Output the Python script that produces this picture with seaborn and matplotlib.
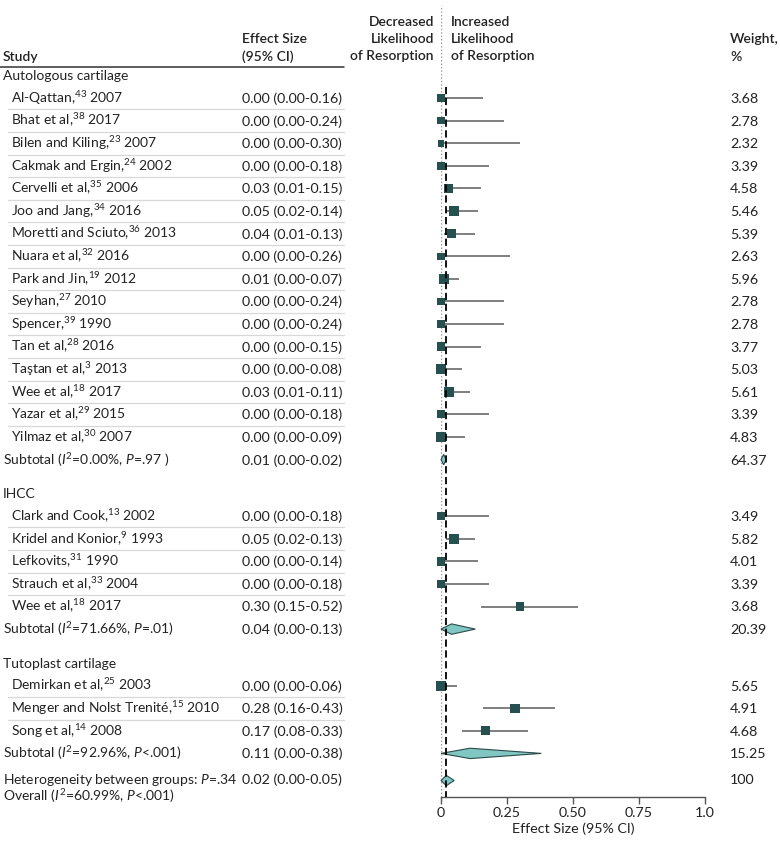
#! /usr/bin/env python3

import numpy as np
import pandas as pd

import matplotlib
matplotlib.use('Agg')
import matplotlib.pyplot as plt
from matplotlib.patches import Polygon
from matplotlib.lines import Line2D
from matplotlib.transforms import blended_transform_factory

import seaborn as sns

# ---- data ----
groups = ["Autologous cartilage", "IHCC", "Tutoplast cartilage"]
group_sizes = [16, 5, 3]

study_names = ["Al-Qattan", "Bhat et al", "Bilen and Kiling", "Cakmak and Ergin",
               "Cervelli et al", "Joo and Jang", "Moretti and Sciuto", "Nuara et al",
               "Park and Jin", "Seyhan", "Spencer", "Tan et al", "Taştan et al",
               "Wee et al", "Yazar et al", "Yilmaz et al",
               "Clark and Cook", "Kridel and Konior", "Lefkovits", "Strauch et al",
               "Wee et al",
               "Demirkan et al", "Menger and Nolst Trenité", "Song et al"]
study_refs = [43, 38, 23, 24, 35, 34, 36, 32, 19, 27, 39, 28, 3, 18, 29, 30,
              13, 9, 31, 33, 18,
              25, 15, 14]
study_years = [2007, 2017, 2007, 2002, 2006, 2016, 2013, 2016, 2012, 2010, 1990, 2016,
               2013, 2017, 2015, 2007,
               2002, 1993, 1990, 2004, 2017,
               2003, 2010, 2008]
effect = [0.00, 0.00, 0.00, 0.00, 0.03, 0.05, 0.04, 0.00, 0.01, 0.00, 0.00, 0.00,
          0.00, 0.03, 0.00, 0.00,
          0.00, 0.05, 0.00, 0.00, 0.30,
          0.00, 0.28, 0.17]
ci_low = [0.00, 0.00, 0.00, 0.00, 0.01, 0.02, 0.01, 0.00, 0.00, 0.00, 0.00, 0.00,
          0.00, 0.01, 0.00, 0.00,
          0.00, 0.02, 0.00, 0.00, 0.15,
          0.00, 0.16, 0.08]
ci_high = [0.16, 0.24, 0.30, 0.18, 0.15, 0.14, 0.13, 0.26, 0.07, 0.24, 0.24, 0.15,
           0.08, 0.11, 0.18, 0.09,
           0.18, 0.13, 0.14, 0.18, 0.52,
           0.06, 0.43, 0.33]
weights = [3.68, 2.78, 2.32, 3.39, 4.58, 5.46, 5.39, 2.63, 5.96, 2.78, 2.78, 3.77,
           5.03, 5.61, 3.39, 4.83,
           3.49, 5.82, 4.01, 3.39, 3.68,
           5.65, 4.91, 4.68]

sub_i2 = ["0.00%", "71.66%", "92.96%"]
sub_p = ["=.97 ", "=.01", "<.001"]
sub_effect = [0.01, 0.04, 0.11]
sub_low = [0.00, 0.00, 0.00]
sub_high = [0.02, 0.13, 0.38]
sub_weights = [64.37, 20.39, 15.25]

overall_effect = 0.02
overall_low = 0.00
overall_high = 0.05
overall_i2 = "60.99%"
overall_p = "<.001"
between_p = "=.34"

# ---- row layout ----
rows_group, rows_study, rows_sub = [], [], []
r = 0.0
for n in group_sizes:
    rows_group.append(r)
    for i in range(n):
        r += 1
        rows_study.append(r)
    r += 1
    rows_sub.append(r)
    r += 1.5
row_overall = rows_sub[-1] + 1.2

df = pd.DataFrame({"row": rows_study, "effect": effect, "low": ci_low,
                   "high": ci_high, "weight": weights})

ROW_PX = 22.6
TOP_PX = 75.4
W, H = 780, 852
AX_BOTTOM_PX = 797

sns.set_style("white")
plt.rcParams['font.family'] = ['Lato', 'DejaVu Sans']
plt.rcParams['mathtext.fontset'] = 'custom'
plt.rcParams['mathtext.rm'] = 'Lato'
plt.rcParams['mathtext.it'] = 'Lato:italic'
plt.rcParams['mathtext.bf'] = 'Lato:bold'

FS_LAB = 10.0   # study column
FS_NUM = 10.3   # numeric columns
FS_HEAD = 10.0
TXT = "#222222"
SQ = "#25504f"
DIA_FILL = "#80c6c2"
DIA_EDGE = "#2b4a4a"

fig = plt.figure(figsize=(W / 100, H / 100), dpi=100)
ax = fig.add_axes([441 / W, (H - AX_BOTTOM_PX) / H, 264 / W, AX_BOTTOM_PX / H])
ax.set_xlim(0, 1)
ax.set_ylim((AX_BOTTOM_PX - TOP_PX) / ROW_PX, -TOP_PX / ROW_PX)

# reference lines
ax.axvline(0, ymin=0, ymax=1 - 5 / AX_BOTTOM_PX, color="#9a9a9a", lw=1,
           ls=(0, (1, 1.5)), zorder=1)
ax.plot([overall_effect, overall_effect], [0.52, ax.get_ylim()[0]], color="black",
        lw=1.3, ls=(0, (4, 2)), zorder=5, clip_on=False)

# CI whiskers
ax.hlines(df["row"], df["low"], df["high"], color="#5c5c5c", lw=1.1, zorder=2)

# weighted squares
sns.scatterplot(data=df, x="effect", y="row", size="weight", sizes=(25, 54),
                size_norm=(min(weights), max(weights)), marker="s", color=SQ,
                linewidth=0, legend=False, ax=ax, zorder=4, clip_on=False)

# diamonds
half_h = 0.23
for rr, e, lo, hi in zip(rows_sub + [row_overall],
                         sub_effect + [overall_effect],
                         sub_low + [overall_low],
                         sub_high + [overall_high]):
    ax.add_patch(Polygon([(lo, rr), (e, rr - half_h), (hi, rr), (e, rr + half_h)],
                         closed=True, facecolor=DIA_FILL, edgecolor=DIA_EDGE,
                         lw=0.8, zorder=4, clip_on=False))

# axis styling
for s in ["left", "top", "right"]:
    ax.spines[s].set_visible(False)
ax.spines["bottom"].set_bounds(0, 1)
ax.spines["bottom"].set_color("#555555")
ax.spines["bottom"].set_linewidth(1)
ax.set_yticks([])
ax.set_ylabel("")
ax.set_xticks([0, 0.25, 0.5, 0.75, 1.0])
ax.set_xticklabels(["0", "0.25", "0.50", "0.75", "1.0"])
ax.tick_params(axis="x", direction="out", length=5, width=1, color="#555555",
               labelsize=FS_NUM, labelcolor=TXT, pad=2, bottom=True)
ax.set_xlabel("Effect Size (95% CI)", fontsize=FS_NUM, color=TXT, labelpad=3)

# ---- table text ----
tr = blended_transform_factory(fig.transFigure, ax.transData)
BASE = 0.22  # baseline offset (rows) from row centre


def put(xpx, row, s, fs=FS_LAB, **kw):
    ax.text(xpx / W, row + BASE, s, transform=tr, fontsize=fs, color=TXT,
            va="baseline", clip_on=False, **kw)


def sep(row):
    ax.add_line(Line2D([8 / W, 344 / W], [row, row], transform=tr, color="#d8d8d8",
                       lw=0.9, clip_on=False))


k = 0
for g, n in enumerate(group_sizes):
    put(3, rows_group[g], groups[g])
    for i in range(n):
        rr = rows_study[k]
        put(11, rr, f"{study_names[k]},$^{{{study_refs[k]}}}$ {study_years[k]}")
        put(242, rr, f"{effect[k]:.2f} ({ci_low[k]:.2f}-{ci_high[k]:.2f})", fs=FS_NUM)
        put(730, rr, f"{weights[k]:.2f}", fs=FS_NUM)
        if i < n - 1:
            sep(rr + 0.5)
        k += 1
    rs = rows_sub[g]
    put(3, rs, f"Subtotal ($I^{{2}}$={sub_i2[g]}, $P${sub_p[g]})")
    put(242, rs, f"{sub_effect[g]:.2f} ({sub_low[g]:.2f}-{sub_high[g]:.2f})", fs=FS_NUM)
    put(730, rs, f"{sub_weights[g]:.2f}", fs=FS_NUM)

put(3, row_overall - 0.05, f"Heterogeneity between groups: $P${between_p}")
put(3, row_overall + 0.7, f"Overall ($I^{{2}}$={overall_i2}, $P${overall_p})")
put(242, row_overall - 0.05,
    f"{overall_effect:.2f} ({overall_low:.2f}-{overall_high:.2f})", fs=FS_NUM)
put(730, row_overall - 0.05, "100", fs=FS_NUM)

# ---- header ----
def head(xpx, ypx, s, ha="left"):
    fig.text(xpx / W, 1 - ypx / H, s, fontsize=FS_HEAD, color=TXT,
             fontweight="semibold", ha=ha, va="center")


head(3, 57, "Study")
head(242, 39, "Effect Size")
head(242, 57, "(95% CI)")
head(434, 22, "Decreased", ha="right")
head(434, 39, "Likelihood", ha="right")
head(434, 56, "of Resorption", ha="right")
head(451, 22, "Increased")
head(451, 39, "Likelihood")
head(451, 56, "of Resorption")
head(730, 39, "Weight,")
head(730, 57, "%")
fig.add_artist(Line2D([0, 344 / W], [1 - 67 / H, 1 - 67 / H],
                      transform=fig.transFigure, color="#333333", lw=1.1))

fig.savefig("out.png", dpi=100)
